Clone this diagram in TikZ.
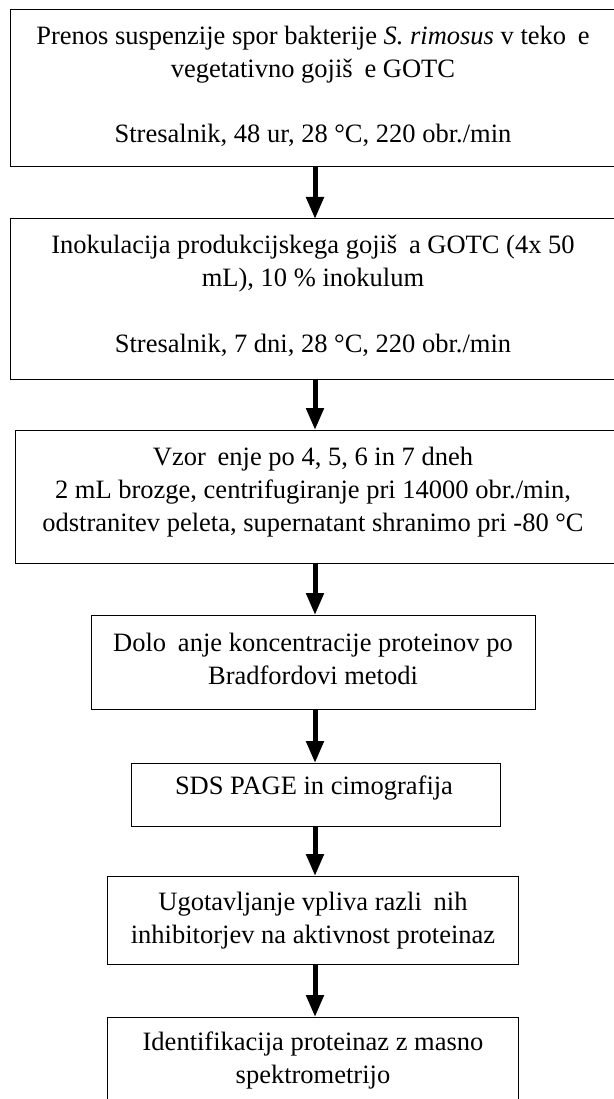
\documentclass[tikz,border=0pt]{standalone}
\usepackage{fontspec}
\setmainfont{Liberation Serif}
\usetikzlibrary{arrows.meta}
\newcommand{\gapc}{\hspace{0.444em}}
\tikzset{
  boxnode/.style={draw=black, line width=1pt, inner sep=0pt, outer sep=0pt, minimum width=#1},
  txt/.style={anchor=base, inner sep=0pt, font=\fontsize{26.5}{33}\selectfont},
  arr/.style={line width=5pt, -{Triangle[length=22pt,width=17pt]}}
}
\begin{document}
\begin{tikzpicture}[x=1pt,y=-1pt]
\useasboundingbox (0,0) rectangle (613,1099);
% boxes
\node[boxnode=606pt, minimum height=157pt] (b1) at (313,88.5) {};
\node[boxnode=606pt, minimum height=160pt] (b2) at (313,299) {};
\node[boxnode=601pt, minimum height=133pt] (b3) at (315.5,496.5) {};
\node[boxnode=444pt, minimum height=94pt] (b4) at (313,662) {};
\node[boxnode=369pt, minimum height=63pt] (b5) at (315.5,794.5) {};
\node[boxnode=411pt, minimum height=88pt] (b6) at (312.5,920) {};
\node[boxnode=411pt, minimum height=88pt] (b7) at (312.5,1061) {};
% texts
\node[txt] (t1a) at (313,45) {Prenos suspenzije spor bakterije \textit{S. rimosus} v teko\gapc e};
\node[txt] (t1b) at (313,78) {vegetativno gojiš\gapc e GOTC};
\node[txt] (t1c) at (313,143) {Stresalnik, 48 ur, 28 °C, 220 obr./min};
\node[txt] (t2a) at (313,253) {Inokulacija produkcijskega gojiš\gapc a GOTC (4x 50};
\node[txt] (t2b) at (313,286) {mL), 10 \% inokulum};
\node[txt] (t2c) at (313,352) {Stresalnik, 7 dni, 28 °C, 220 obr./min};
\node[txt] (t3a) at (313,465) {Vzor\gapc enje po 4, 5, 6 in 7 dneh};
\node[txt] (t3b) at (313,498) {2 mL brozge, centrifugiranje pri 14000 obr./min,};
\node[txt] (t3c) at (313,531) {odstranitev peleta, supernatant shranimo pri -80 °C};
\node[txt] (t4a) at (313,651) {Dolo\gapc anje koncentracije proteinov po};
\node[txt] (t4b) at (313,684) {Bradfordovi metodi};
\node[txt] (t5a) at (314,794) {SDS PAGE in cimografija};
\node[txt] (t6a) at (313,910) {Ugotavljanje vpliva razli\gapc nih};
\node[txt] (t6b) at (313,943) {inhibitorjev na aktivnost proteinaz};
\node[txt] (t7a) at (313,1050) {Identifikacija proteinaz z masno};
\node[txt] (t7b) at (313,1083) {spektrometrijo};
% arrows
\coordinate (ax) at (315,0);
\draw[arr] (b1.south -| ax) -- (b2.north -| ax);
\draw[arr] (b2.south -| ax) -- (b3.north -| ax);
\draw[arr] (b3.south -| ax) -- (b4.north -| ax);
\draw[arr] (b4.south -| ax) -- (b5.north -| ax);
\draw[arr] (b5.south -| ax) -- (b6.north -| ax);
\draw[arr] (b6.south -| ax) -- (b7.north -| ax);
\end{tikzpicture}
\end{document}
